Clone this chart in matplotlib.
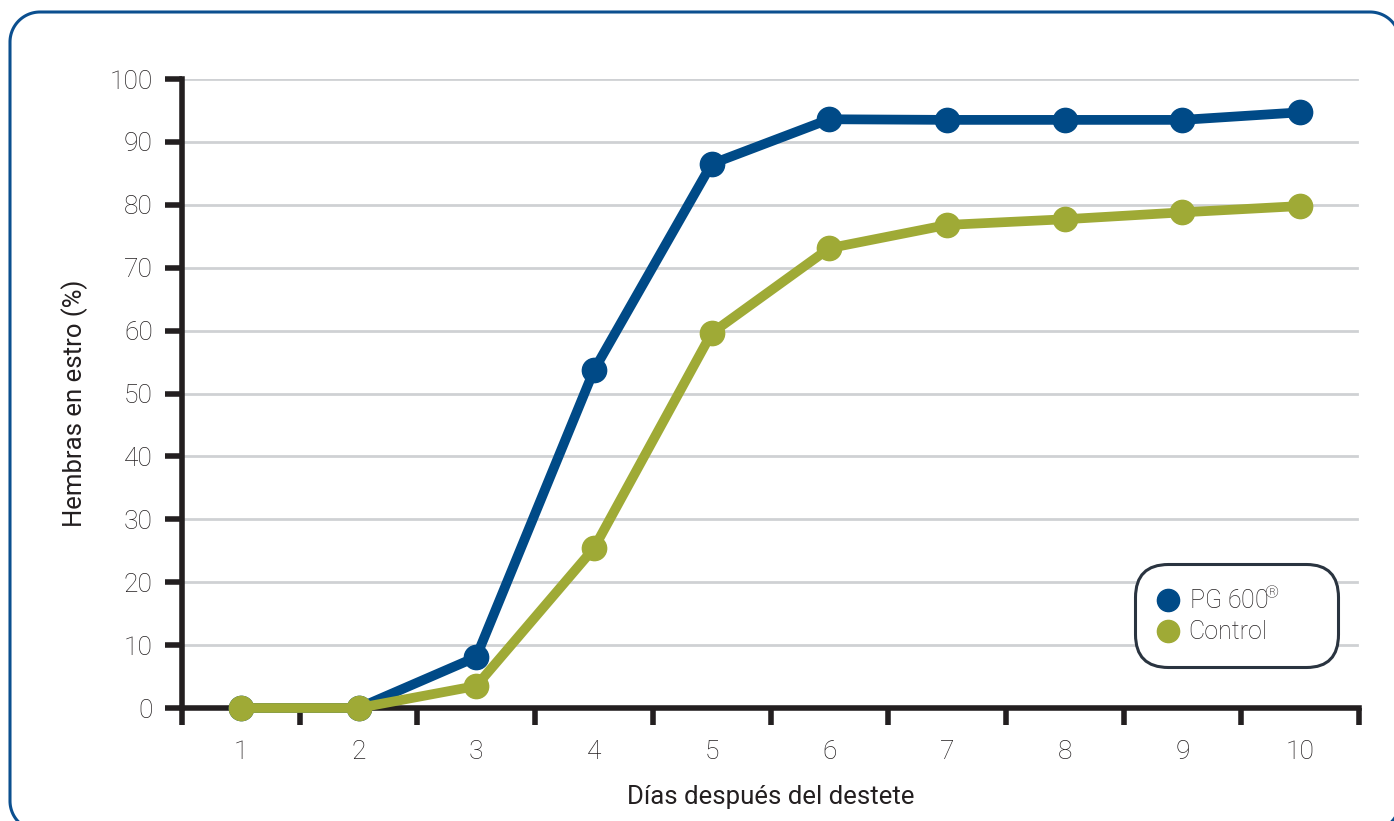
import numpy as np
import matplotlib.pyplot as plt
from matplotlib.lines import Line2D

# Días después del destete
dias = [1, 2, 3, 4, 5, 6, 7, 8, 9, 10]
# Hembras en estro (%)
pg600 = [0, 0, 8.1, 53.7, 86.5, 93.6, 93.5, 93.5, 93.5, 94.7]
control = [0, 0, 3.5, 25.4, 59.6, 73.1, 76.8, 77.7, 78.8, 79.8]
series_labels = ['PG 600$\\!^{®}$', 'Control']

AZUL = '#004a87'
VERDE = '#9faa36'
NEGRO = '#231f20'
GRIS = '#cfd1d4'

plt.rcParams['font.family'] = ['Roboto', 'DejaVu Sans']
plt.rcParams['font.weight'] = 'light'
plt.rcParams['mathtext.fontset'] = 'custom'
plt.rcParams['mathtext.rm'] = 'Roboto:light'

W, H = 1394, 821
fig = plt.figure(figsize=(W / 100, H / 100), dpi=100)


def contorno_redondeado(x0, y0, x1, y1, r, n=30):
    """Puntos del contorno de un rectángulo con esquinas redondeadas."""
    esquinas = [(x1 - r, y1 - r, 0), (x0 + r, y1 - r, 90),
                (x0 + r, y0 + r, 180), (x1 - r, y0 + r, 270)]
    xs, ys = [], []
    for cx, cy, a0 in esquinas:
        t = np.radians(np.linspace(a0, a0 + 90, n))
        xs.extend(cx + r * np.cos(t))
        ys.extend(cy + r * np.sin(t))
    xs.append(xs[0])
    ys.append(ys[0])
    return xs, ys


# marco de fondo en píxeles (y hacia arriba); se sale por la derecha y por abajo
fondo = fig.add_axes([0, 0, 1, 1], zorder=-1)
fondo.set_xlim(0, W)
fondo.set_ylim(0, H)
fondo.axis('off')
mx, my = contorno_redondeado(10, H - 831, 1400, H - 12, 30)
fondo.plot(mx, my, color='#0b4f8f', linewidth=2.2, clip_on=False)

ax = fig.add_axes([182 / W, 1 - 708 / H, (1359 - 182) / W, (708 - 79) / H])
ax.patch.set_alpha(0)
ax.set_xlim(0.5, 10.5)
ax.set_ylim(0, 100)

ax.set_yticks(range(0, 101, 10))
for y in range(10, 101, 10):
    ax.axhline(y, color=GRIS, linewidth=2, zorder=0, xmax=0.998)

ax.set_xticks([d + 0.5 for d in range(0, 11)])
ax.set_xticks(dias, minor=True)
ax.set_xticklabels([])
ax.set_xticklabels([str(d) for d in dias], minor=True)

ax.tick_params(axis='x', which='major', length=12, width=4, color=NEGRO, direction='out')
ax.tick_params(axis='x', which='minor', length=0, pad=23, labelsize=19, labelcolor=NEGRO)
ax.tick_params(axis='y', length=12, width=4, color=NEGRO, pad=9, labelsize=19, labelcolor=NEGRO)

for lado in ['top', 'right']:
    ax.spines[lado].set_visible(False)
for lado in ['left', 'bottom']:
    ax.spines[lado].set_linewidth(4)
    ax.spines[lado].set_color(NEGRO)
    ax.spines[lado].set_zorder(1)

ax.plot(dias, pg600, color=AZUL, linewidth=7, marker='o', markersize=17.5,
        clip_on=False, zorder=3, solid_joinstyle='round')
ax.plot(dias, control, color=VERDE, linewidth=7, marker='o', markersize=17.5,
        clip_on=False, zorder=4, solid_joinstyle='round')

ax.set_xlabel('Días después del destete', fontsize=18.5, color=NEGRO, labelpad=15)
ax.set_ylabel('Hembras en estro (%)', fontsize=18.5, color=NEGRO)
ax.yaxis.set_label_coords(-0.080, 0.484)

# leyenda con caja redondeada de ancho fijo
handles = [Line2D([], [], linestyle='none', marker='o', markersize=16, color=c)
           for c in (AZUL, VERDE)]
x0 = (1135 - 182) / 1177
y1 = 1 - (564 - 79) / 629
ancho = (1338 - 1135) / 1177
alto = (666 - 564) / 629
leg = ax.legend(handles, series_labels, loc='upper left', mode='expand',
                bbox_to_anchor=(x0, y1 - alto, ancho, alto),
                fontsize=18, frameon=True, fancybox=True, handlelength=0.8,
                handletextpad=0.45, labelspacing=0.27, borderpad=0.9,
                borderaxespad=0, labelcolor=NEGRO)
frame = leg.get_frame()
frame.set_edgecolor('#2a3440')
frame.set_linewidth(2.2)
frame.set_alpha(1)
frame.set_boxstyle('round,pad=0,rounding_size=1.3')

fig.savefig('out.png', dpi=100)
